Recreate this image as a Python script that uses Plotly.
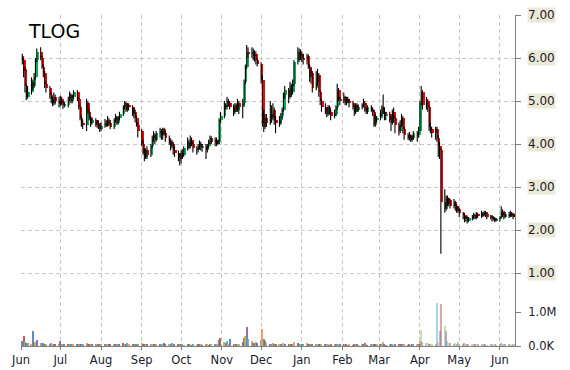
import pandas as pd
import plotly.graph_objects as go

# ---------------- data (daily, Jun 2 2014 .. Jun 12 2015, 5 days per line) -------------
dates = pd.bdate_range("2014-06-02", periods=270)

open_ = [
    6.05, 5.95, 5.75, 5.35, 5.10,  5.20, 5.45, 5.35, 5.55, 5.95,
    6.15, 6.00, 5.80, 5.65, 5.40,  5.30, 5.15, 5.05, 4.95, 5.10,
    5.00, 4.92, 5.05, 4.95, 4.90,  4.90, 5.05, 5.15, 5.00, 5.10,
    5.20, 5.05, 4.85, 4.60, 4.50,  4.45, 4.95, 4.75, 4.60, 4.50,
    4.55, 4.45, 4.50, 4.40, 4.35,  4.42, 4.50, 4.45, 4.55, 4.48,
    4.40, 4.55, 4.62, 4.50, 4.60,  4.70, 4.85, 4.95, 4.80, 4.90,
    4.85, 4.70, 4.75, 4.60, 4.45,  4.30, 4.00, 3.85, 3.70, 3.85,
    3.75, 3.95, 4.15, 4.20, 4.10,  4.25, 4.30, 4.20, 4.35, 4.25,
    4.15, 4.05, 3.95, 4.00, 3.85,  3.80, 3.70, 3.65, 3.80, 3.75,
    3.90, 4.05, 3.95, 4.10, 4.00,  3.90, 3.85, 3.95, 4.00, 3.90,
    3.95, 3.85, 3.95, 4.05, 4.15,  4.05, 4.10, 4.00, 4.05, 4.55,
    4.65, 4.90, 4.85, 5.00, 4.95,  4.85, 4.75, 4.90, 4.80, 4.95,
    4.85, 4.95, 5.45, 5.80, 6.15,  6.10, 6.15, 6.05, 6.10, 5.95,
    5.85, 5.50, 4.60, 4.40, 4.60,  4.50, 4.70, 4.60, 4.80, 4.55,
    4.50, 4.55, 4.65, 4.80, 5.15,  5.25, 5.10, 5.35, 5.20, 5.40,
    5.90, 6.15, 6.05, 6.10, 6.00,  5.95, 6.05, 5.80, 5.55, 5.65,
    5.30, 5.45, 5.60, 5.20, 5.00,  4.85, 4.80, 4.70, 4.85, 4.75,
    4.65, 4.70, 4.85, 5.25, 5.05,  5.00, 5.10, 4.95, 5.05, 5.00,
    4.95, 4.85, 4.75, 4.90, 4.80,  4.85, 4.90, 4.95, 4.80, 4.75,
    4.85, 4.80, 4.75, 4.45, 4.55,  4.60, 4.70, 4.85, 4.75, 4.65,
    4.70, 4.55, 4.50, 4.75, 4.60,  4.45, 4.30, 4.45, 4.60, 4.35,
    4.20, 4.15, 4.20, 4.10, 4.15,  4.25, 4.20, 4.30, 4.95, 5.20,
    4.90, 5.00, 4.85, 4.40, 4.35,  4.25, 4.35, 4.15, 3.95, 3.85,
    2.65, 2.50, 2.75, 2.60, 2.70,  2.55, 2.65, 2.55, 2.45, 2.50,
    2.40, 2.35, 2.25, 2.30, 2.20,  2.28, 2.30, 2.35, 2.28, 2.38,
    2.32, 2.40, 2.35, 2.42, 2.38,  2.30, 2.32, 2.25, 2.28, 2.22,
    2.25, 2.30, 2.45, 2.35, 2.30,  2.38, 2.32, 2.40, 2.35, 2.30,
]
high = [
    6.10, 6.00, 5.80, 5.40, 5.35,  5.55, 5.50, 5.65, 6.00, 6.22,
    6.25, 6.05, 5.85, 5.70, 5.45,  5.35, 5.20, 5.10, 5.20, 5.15,
    5.10, 5.12, 5.10, 5.00, 4.98,  5.10, 5.22, 5.18, 5.15, 5.25,
    5.25, 5.10, 4.90, 4.65, 4.55,  5.05, 5.00, 4.80, 4.65, 4.62,
    4.60, 4.55, 4.55, 4.45, 4.50,  4.58, 4.55, 4.65, 4.60, 4.52,
    4.60, 4.70, 4.65, 4.65, 4.75,  4.90, 5.00, 4.98, 4.95, 4.95,
    4.90, 4.85, 4.80, 4.65, 4.50,  4.35, 4.10, 3.90, 3.90, 3.95,
    4.00, 4.20, 4.30, 4.25, 4.30,  4.38, 4.35, 4.38, 4.38, 4.30,
    4.20, 4.10, 4.10, 4.05, 3.95,  3.85, 3.78, 3.85, 3.88, 3.95,
    4.15, 4.10, 4.20, 4.15, 4.05,  3.95, 4.00, 4.08, 4.05, 4.00,
    4.00, 4.00, 4.10, 4.20, 4.18,  4.15, 4.15, 4.10, 4.60, 4.75,
    5.00, 4.95, 5.10, 5.05, 5.00,  4.92, 4.95, 4.95, 5.05, 5.00,
    5.05, 5.50, 5.85, 6.30, 6.25,  6.25, 6.22, 6.18, 6.15, 6.00,
    5.90, 5.60, 4.80, 4.70, 4.70,  5.00, 4.90, 4.95, 4.85, 4.65,
    4.65, 4.72, 4.85, 5.20, 5.35,  5.30, 5.45, 5.40, 5.50, 5.95,
    6.25, 6.22, 6.20, 6.15, 6.10,  6.10, 6.08, 5.85, 5.75, 5.70,
    5.70, 5.75, 5.65, 5.25, 5.05,  4.95, 4.85, 4.90, 4.90, 4.80,
    4.80, 4.90, 5.40, 5.30, 5.10,  5.20, 5.12, 5.10, 5.10, 5.05,
    5.00, 4.90, 4.95, 4.95, 4.92,  4.95, 5.05, 5.00, 4.85, 4.90,
    4.90, 4.85, 4.80, 4.70, 4.65,  4.80, 4.90, 5.15, 4.85, 4.75,
    4.75, 4.65, 4.80, 4.85, 4.65,  4.50, 4.55, 4.70, 4.65, 4.40,
    4.25, 4.28, 4.22, 4.20, 4.30,  4.30, 4.40, 5.00, 5.35, 5.25,
    5.10, 5.05, 4.90, 4.50, 4.40,  4.40, 4.40, 4.20, 4.05, 3.90,
    2.95, 2.80, 2.80, 2.75, 2.72,  2.72, 2.68, 2.60, 2.55, 2.52,
    2.42, 2.40, 2.32, 2.33, 2.30,  2.35, 2.40, 2.38, 2.42, 2.40,
    2.45, 2.42, 2.45, 2.44, 2.40,  2.35, 2.35, 2.30, 2.30, 2.28,
    2.32, 2.55, 2.48, 2.40, 2.42,  2.42, 2.45, 2.42, 2.38, 2.38,
]
low = [
    5.85, 5.55, 5.20, 5.02, 5.05,  5.15, 5.25, 5.30, 5.50, 5.90,
    5.95, 5.75, 5.55, 5.30, 5.20,  5.05, 4.95, 4.88, 4.90, 4.92,
    4.85, 4.88, 4.90, 4.82, 4.85,  4.85, 5.00, 4.95, 4.95, 5.05,
    5.00, 4.80, 4.55, 4.40, 4.35,  4.30, 4.70, 4.55, 4.40, 4.45,
    4.40, 4.38, 4.35, 4.28, 4.30,  4.38, 4.40, 4.40, 4.42, 4.35,
    4.35, 4.50, 4.45, 4.45, 4.55,  4.65, 4.80, 4.75, 4.75, 4.78,
    4.65, 4.60, 4.50, 4.40, 4.15,  3.95, 3.75, 3.60, 3.65, 3.65,
    3.70, 3.90, 4.05, 4.00, 4.05,  4.15, 4.10, 4.10, 4.20, 4.05,
    3.98, 3.85, 3.90, 3.75, 3.70,  3.60, 3.50, 3.55, 3.65, 3.70,
    3.85, 3.88, 3.90, 3.95, 3.80,  3.75, 3.80, 3.88, 3.85, 3.82,
    3.65, 3.80, 3.90, 4.00, 4.00,  3.95, 3.95, 3.98, 4.00, 4.50,
    4.60, 4.80, 4.80, 4.88, 4.80,  4.65, 4.70, 4.75, 4.75, 4.70,
    4.60, 4.90, 5.40, 5.75, 6.00,  6.00, 5.95, 5.92, 5.85, 5.80,
    5.40, 4.40, 4.28, 4.35, 4.40,  4.45, 4.50, 4.55, 4.45, 4.25,
    4.40, 4.45, 4.60, 4.75, 5.05,  4.95, 5.05, 5.10, 5.15, 5.35,
    5.85, 5.95, 5.95, 5.90, 5.85,  5.85, 5.75, 5.45, 5.40, 5.20,
    5.25, 5.35, 5.10, 4.90, 4.75,  4.70, 4.62, 4.65, 4.68, 4.55,
    4.60, 4.65, 4.80, 5.00, 4.90,  4.95, 4.90, 4.90, 4.95, 4.85,
    4.80, 4.65, 4.70, 4.75, 4.75,  4.80, 4.85, 4.75, 4.70, 4.70,
    4.75, 4.65, 4.40, 4.40, 4.50,  4.55, 4.65, 4.70, 4.55, 4.55,
    4.50, 4.30, 4.45, 4.50, 4.25,  4.20, 4.25, 4.40, 4.25, 4.10,
    4.10, 4.08, 4.05, 4.05, 4.10,  4.05, 4.15, 4.30, 4.90, 4.80,
    4.80, 4.75, 4.30, 4.25, 4.15,  4.10, 4.05, 3.70, 3.65, 1.45,
    2.40, 2.45, 2.55, 2.55, 2.50,  2.50, 2.45, 2.40, 2.40, 2.30,
    2.25, 2.18, 2.20, 2.15, 2.18,  2.22, 2.25, 2.25, 2.25, 2.28,
    2.28, 2.30, 2.32, 2.30, 2.25,  2.25, 2.20, 2.22, 2.18, 2.20,
    2.20, 2.28, 2.30, 2.25, 2.28,  2.28, 2.30, 2.30, 2.25, 2.30,
]
close = [
    5.95, 5.70, 5.35, 5.10, 5.20,  5.45, 5.35, 5.55, 5.95, 6.15,
    6.00, 5.80, 5.65, 5.40, 5.30,  5.15, 5.05, 4.95, 5.10, 5.00,
    4.92, 5.05, 4.95, 4.90, 4.90,  5.05, 5.15, 5.00, 5.10, 5.20,
    5.05, 4.85, 4.60, 4.50, 4.45,  4.95, 4.75, 4.60, 4.50, 4.55,
    4.45, 4.50, 4.40, 4.35, 4.42,  4.50, 4.45, 4.55, 4.48, 4.40,
    4.55, 4.62, 4.50, 4.60, 4.70,  4.85, 4.95, 4.80, 4.90, 4.85,
    4.70, 4.75, 4.60, 4.45, 4.30,  4.00, 3.80, 3.70, 3.85, 3.75,
    3.95, 4.15, 4.20, 4.10, 4.25,  4.30, 4.20, 4.35, 4.25, 4.15,
    4.05, 3.95, 4.00, 3.85, 3.80,  3.70, 3.65, 3.80, 3.75, 3.90,
    4.05, 3.95, 4.10, 4.00, 3.90,  3.85, 3.95, 4.00, 3.90, 3.95,
    3.85, 3.95, 4.05, 4.15, 4.05,  4.10, 4.00, 4.05, 4.55, 4.65,
    4.90, 4.85, 5.00, 4.95, 4.85,  4.75, 4.90, 4.80, 4.95, 4.85,
    4.95, 5.45, 5.80, 6.15, 6.10,  6.15, 6.05, 6.10, 5.95, 5.85,
    5.50, 4.50, 4.40, 4.60, 4.50,  4.70, 4.60, 4.80, 4.55, 4.50,
    4.55, 4.65, 4.80, 5.15, 5.25,  5.10, 5.35, 5.20, 5.40, 5.90,
    6.15, 6.05, 6.10, 6.00, 5.95,  6.05, 5.80, 5.55, 5.65, 5.30,
    5.45, 5.60, 5.20, 5.00, 4.85,  4.80, 4.70, 4.85, 4.75, 4.65,
    4.70, 4.85, 5.25, 5.05, 5.00,  5.10, 4.95, 5.05, 5.00, 4.95,
    4.85, 4.75, 4.90, 4.80, 4.85,  4.90, 4.95, 4.80, 4.75, 4.85,
    4.80, 4.75, 4.45, 4.55, 4.60,  4.70, 4.85, 4.75, 4.65, 4.70,
    4.55, 4.50, 4.75, 4.60, 4.45,  4.30, 4.45, 4.60, 4.35, 4.20,
    4.15, 4.20, 4.10, 4.15, 4.25,  4.20, 4.30, 4.95, 5.20, 4.90,
    5.00, 4.85, 4.40, 4.35, 4.25,  4.35, 4.15, 3.95, 3.85, 2.65,
    2.50, 2.75, 2.60, 2.70, 2.55,  2.65, 2.55, 2.45, 2.50, 2.40,
    2.35, 2.25, 2.30, 2.20, 2.28,  2.30, 2.35, 2.28, 2.38, 2.32,
    2.40, 2.35, 2.42, 2.38, 2.30,  2.32, 2.25, 2.28, 2.22, 2.25,
    2.30, 2.45, 2.35, 2.30, 2.38,  2.32, 2.40, 2.35, 2.30, 2.35,
]
volume_m = [
    0.15, 0.30, 0.12, 0.08, 0.10,  0.06, 0.44, 0.10, 0.12, 0.18,
    0.08, 0.05, 0.10, 0.07, 0.06,  0.05, 0.09, 0.06, 0.05, 0.04,
    0.06, 0.16, 0.05, 0.04, 0.03,  0.04, 0.03, 0.05, 0.04, 0.03,
    0.05, 0.04, 0.06, 0.04, 0.03,  0.09, 0.04, 0.05, 0.03, 0.04,
    0.03, 0.04, 0.05, 0.03, 0.04,  0.05, 0.03, 0.04, 0.03, 0.06,
    0.04, 0.03, 0.05, 0.04, 0.03,  0.08, 0.04, 0.03, 0.10, 0.04,
    0.05, 0.04, 0.03, 0.06, 0.07,  0.08, 0.06, 0.04, 0.05, 0.03,
    0.04, 0.05, 0.03, 0.04, 0.03,  0.06, 0.04, 0.03, 0.09, 0.04,
    0.03, 0.05, 0.10, 0.04, 0.03,  0.04, 0.03, 0.05, 0.03, 0.02,
    0.03, 0.04, 0.03, 0.02, 0.03,  0.02, 0.03, 0.04, 0.03, 0.02,
    0.03, 0.04, 0.02, 0.05, 0.03,  0.04, 0.03, 0.06, 0.18, 0.25,
    0.12, 0.08, 0.15, 0.06, 0.20,  0.07, 0.05, 0.06, 0.04, 0.05,
    0.12, 0.25, 0.30, 0.55, 0.20,  0.15, 0.10, 0.08, 0.12, 0.10,
    0.18, 0.50, 0.20, 0.15, 0.08,  0.06, 0.05, 0.08, 0.04, 0.05,
    0.04, 0.05, 0.03, 0.10, 0.06,  0.05, 0.04, 0.06, 0.05, 0.12,
    0.08, 0.06, 0.05, 0.07, 0.04,  0.10, 0.06, 0.05, 0.04, 0.07,
    0.05, 0.04, 0.03, 0.05, 0.04,  0.03, 0.04, 0.03, 0.02, 0.03,
    0.04, 0.03, 0.05, 0.04, 0.03,  0.03, 0.04, 0.03, 0.02, 0.03,
    0.02, 0.03, 0.04, 0.03, 0.02,  0.03, 0.04, 0.10, 0.03, 0.02,
    0.03, 0.04, 0.06, 0.03, 0.04,  0.03, 0.04, 0.12, 0.03, 0.02,
    0.03, 0.04, 0.03, 0.02, 0.04,  0.03, 0.02, 0.03, 0.04, 0.03,
    0.02, 0.03, 0.02, 0.03, 0.04,  0.03, 0.04, 0.15, 0.47, 0.12,
    0.10, 0.08, 0.05, 0.06, 0.04,  0.05, 1.26, 0.12, 0.45, 1.25,
    0.58, 0.45, 0.15, 0.10, 0.08,  0.06, 0.10, 0.05, 0.12, 0.04,
    0.05, 0.08, 0.04, 0.03, 0.05,  0.03, 0.04, 0.05, 0.03, 0.04,
    0.03, 0.02, 0.04, 0.03, 0.02,  0.03, 0.02, 0.04, 0.03, 0.02,
    0.03, 0.08, 0.05, 0.03, 0.04,  0.03, 0.04, 0.02, 0.03, 0.05,
]
price_ticks = [1, 2, 3, 4, 5, 6, 7]
price_labels = ["1.00", "2.00", "3.00", "4.00", "5.00", "6.00", "7.00"]
vol_ticks = [0, 1_000_000]
vol_labels = ["0.0K", "1.0M"]
title_text = "TLOG"

# ---------------- styling -------------
UP = "#00B050"
DOWN = "#FF0000"
PALETTE = ["#4F81BD", "#C0504D", "#9BBB59", "#8064A2", "#4BACC6", "#F79646"]
GRID = "#C8C8C8"
AXIS = "#808080"
FONT = "DejaVu Sans"
DAY_MS = 86_400_000

# wicks
wx, wy = [], []
for d, h, l in zip(dates, high, low):
    wx += [d, d, None]
    wy += [l, h, None]

body_base = [min(o, c) for o, c in zip(open_, close)]
body_h = [max(abs(c - o), 0.02) for o, c in zip(open_, close)]
body_col = [UP if c >= o else DOWN for o, c in zip(open_, close)]

volume = [v * 1_000_000 for v in volume_m]
vol_col = [PALETTE[i % len(PALETTE)] for i in range(len(volume))]
vol_op = [0.5 if d >= pd.Timestamp("2015-04-01") else 0.9 for d in dates]

fig = go.Figure()
fig.add_trace(go.Bar(x=dates, y=volume, yaxis="y2", width=0.8 * DAY_MS,
                     marker=dict(color=vol_col, opacity=vol_op, line=dict(width=0)),
                     hoverinfo="skip", showlegend=False))
fig.add_trace(go.Scatter(x=wx, y=wy, mode="lines", line=dict(color="black", width=1.1),
                         hoverinfo="skip", showlegend=False))
fig.add_trace(go.Bar(x=dates, y=body_h, base=body_base, width=1.6 * DAY_MS,
                     offset=0,
                     marker=dict(color=body_col, line=dict(width=0)),
                     hoverinfo="skip", showlegend=False))

W, H = 570, 370
L, R, T, B = 21, 55, 15, 24
plot_h = H - T - B  # 331
px_per_unit = 43.0
y_min = 7 - plot_h / px_per_unit
vol_max = plot_h / 34.0 * 1_000_000

fig.update_layout(
    width=W, height=H,
    margin=dict(l=L, r=R, t=T, b=B, autoexpand=False),
    paper_bgcolor="white", plot_bgcolor="white",
    barmode="overlay", bargap=0,
    showlegend=False,
    font=dict(family=FONT, size=11.5, color="#1a1a2a"),
    xaxis=dict(
        type="date", automargin=False,
        range=["2014-06-01", "2015-06-12 12:00"],
        tick0="2014-06-01", dtick="M1", tickformat="%b",
        showgrid=True, gridcolor=GRID, griddash="4px,3px", gridwidth=1,
        showline=True, linecolor=AXIS, linewidth=1,
        ticks="outside", ticklen=3, tickcolor=AXIS,
        zeroline=False, rangeslider=dict(visible=False),
        tickfont=dict(size=11.5),
    ),
    yaxis=dict(
        side="right", range=[y_min, 7], automargin=False,
        tickvals=price_ticks, ticktext=price_labels, showticklabels=False,
        showgrid=True, gridcolor=GRID, griddash="4px,3px", gridwidth=1,
        showline=True, linecolor=AXIS, linewidth=1,
        ticks="outside", ticklen=5, tickcolor=AXIS,
        zeroline=False,
    ),
    yaxis2=dict(
        overlaying="y", side="right", range=[0, vol_max], automargin=False,
        tickvals=vol_ticks, ticktext=vol_labels,
        showgrid=False, zeroline=False,
        showline=True, linecolor=AXIS, linewidth=1,
        ticks="outside", ticklen=5, tickcolor=AXIS,
        ticklabelstandoff=5,
        tickfont=dict(size=11.5),
    ),
)

for v, t in zip(price_ticks, price_labels):
    fig.add_annotation(x=1, xref="paper", y=v, yref="y", text=t, showarrow=False,
                       xanchor="left", yanchor="middle", xshift=12,
                       bgcolor="#ECE9D8", borderpad=0,
                       font=dict(family=FONT, size=12, color="#1a1a2a"))

fig.add_annotation(x=0, xref="paper", y=1 - (31 - T) / plot_h, yref="paper",
                   text=title_text, showarrow=False, xanchor="left", yanchor="middle",
                   xshift=5, font=dict(family=FONT, size=19, color="black"))

fig.write_html("out.html")
